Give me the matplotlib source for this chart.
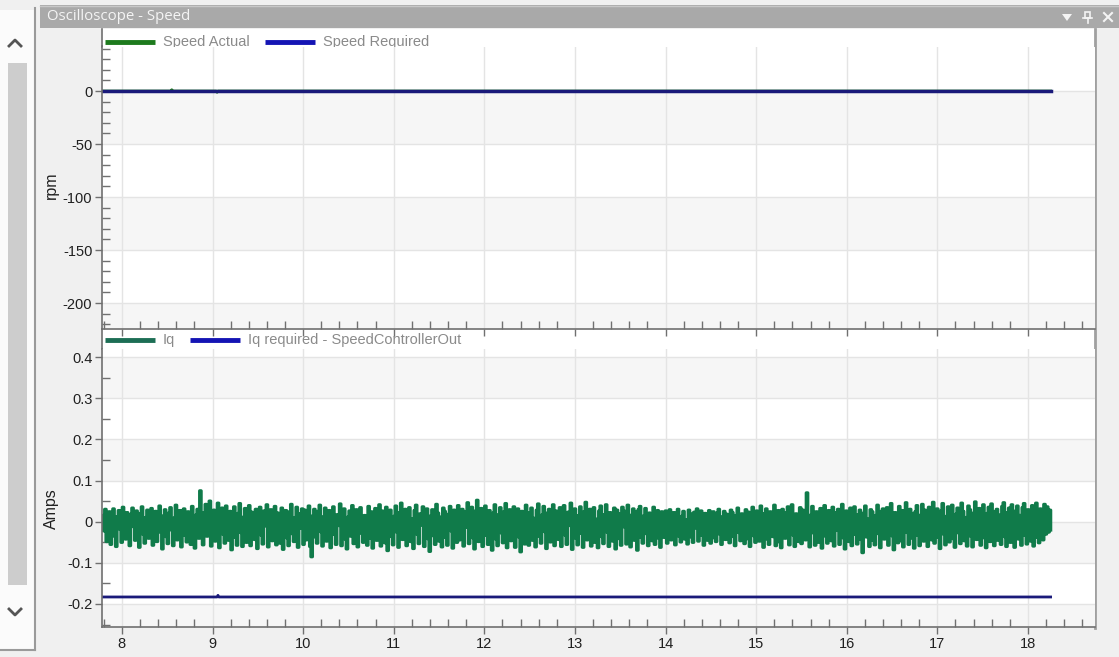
import numpy as np
import matplotlib
matplotlib.use("Agg")
import matplotlib.pyplot as plt
from matplotlib.patches import Rectangle, Polygon
from matplotlib.ticker import MultipleLocator

plt.rcParams['font.family'] = ['Liberation Sans', 'DejaVu Sans']
plt.rcParams['axes.unicode_minus'] = False

W, H = 1119, 657

# ---- data -------------------------------------------------------------
title_text = "Oscilloscope - Speed"

t_start, t_end = 7.78, 18.25

speed_t = [7.78, 8.54, 8.55, 8.56, 9.04, 9.05, 9.06, 18.25]
speed_actual = [0, 0, 1.2, 0, 0, -1.2, 0, 0]
speed_required = [0, 0, 0, 0, 0, 0, 0, 0]

iq_req_t = [7.78, 9.05, 9.06, 9.07, 18.25]
iq_required = [-0.183, -0.183, -0.179, -0.183, -0.183]

# Iq samples in milliamps, evenly spaced from t_start to t_end
iq_ma = [
    15, -22, 30, -48, -10, 24, -55, 8, 31, -35, -60, 12, 27, -18, -50, 35, 4, -42, 22, -28, -58, 18, 33, -12, -45,
    26, -5, -62, 20, 36, -30, -52, 10, 28, -40, -15, 32, -57, 6, 25, -48, -25, 38, -8, -66, 14, 29, -36, -53, 21,
    34, -20, -58, 9, 40, -44, -12, 27, -61, 18, 31, -33, -49, 24, 2, -55, 37, -27, -64, 16, 30, -40, 75, -18, -56,
    22, 42, -35, -8, 50, -59, 12, 28, -47, -22, 45, -63, 19, 33, -30, -52, 38, 6, -45, 25, -68, 14, 36, -38, -57,
    20, 44, -26, -60, 11, 32, -50, -14, 39, -58, 23, 5, -43, 30, -65, 17, 35, -32, -54, 26, -10, 41, -61, 13, 29,
    -46, -20, 37, -56, 21, 8, -52, 33, -67, 15, 27, -39, -58, 24, 42, -29, -48, 10, 35, -62, 19, -16, 31, -55, 28,
    -44, 22, 38, -60, -85, 14, 30, -37, -52, 25, 40, -24, -59, 12, 33, -47, 6, 27, -63, 20, 36, -31, -55, 17, -9,
    43, -58, 23, 31, -42, -66, 11, 26, -35, 39, -53, -18, 29, -61, 21, 34, -28, -50, 15, 4, -57, 37, -40, 24, -64,
    18, 32, -45, -12, 41, -59, 26, 9, -51, 35, -70, 20, 28, -36, -56, 13, 38, -25, -62, 22, 45, -43, -15, 30, -58,
    16, 34, -48, 7, -65, 27, 40, -30, -53, 19, -8, 36, -60, 24, 31, -41, -72, 14, 29, -34, -55, 42, 21, -47, 11,
    -61, 33, 25, -38, -57, 18, 37, -22, -64, 28, 10, -50, 39, -44, 15, 30, -59, 23, -13, 46, -53, 20, 35, -39, -66,
    26, 52, -48, -17, 32, -60, 14, 38, -33, -55, 27, 5, -69, 21, 41, -42, -58, 17, 34, -27, -51, 24, 44, -63, 12,
    29, -46, -20, 36, -62, 19, 31, -37, -73, 25, 11, -54, 40, -30, -57, 22, 33, -45, 8, -61, 28, 43, -35, -52, 16,
    37, -24, -65, 21, 30, -49, -14, 41, -58, 26, 12, -43, 34, -60, 18, 39, -32, -55, 23, -9, 45, -67, 27, 31, -40,
    -56, 15, 36, -28, -62, 24, 47, -44, -18, 30, -59, 20, 34, -50, 6, -63, 26, 38, -36, -53, 17, 41, -25, -60, 22,
    9, -47, 33, -66, 28, 19, -41, -57, 35, -12, 25, -54, 40, -33, -61, 16, 31, -45, 23, -69, 29, 37, -38, -52, 14,
    32, -29, -58, 21, 12, -46, 35, -55, 18, 27, -40, -62, 24, 15, -38, 26, -52, 10, 29, -44, -20, 22, -56, 17, 30,
    -35, -49, 13, 25, -42, 5, -54, 28, 19, -37, -50, 23, -15, 31, -47, 14, 26, -33, -57, 20, 8, -45, 27, -52, 16,
    24, -39, -48, 21, 30, -30, -55, 12, 25, -43, 18, -8, -51, 28, 22, -36, -58, 15, 33, -26, -46, 19, 10, -53, 29,
    -41, 23, -60, 17, 35, -34, -50, 26, 14, -47, 38, -28, -62, 20, 31, -42, -55, 24, 12, -36, 40, -58, 18, 27, -49,
    -63, 30, 22, -40, -15, 36, -56, 25, 41, -32, -60, 19, 13, -48, 34, -53, 28, 21, -44, 70, -38, -61, 16, 37, -27,
    -57, 24, 9, -50, 32, -64, 20, 39, -35, -52, 27, 14, -46, 35, -59, 22, -21, 30, -55, 18, 42, -39, -66, 26, 11,
    -48, 33, -58, 23, 36, -31, -54, 17, 28, -43, -75, 21, 38, -37, 6, -60, 29, 24, -45, -56, 15, 40, -29, -63, 25,
    31, -42, -12, 34, -57, 19, 44, -34, -68, 22, 12, -51, 37, -46, 27, -61, 18, 46, -26, -55, 30, 20, -40, -64, 24,
    39, -33, -58, 16, 42, -47, 28, -13, -60, 35, 21, -44, 47, -52, 19, 31, -38, -65, 26, 44, -30, -56, 13, 36, -49,
    23, 40, -41, -62, 18, 33, -27, -53, 45, 25, -46, 10, -59, 38, 29, -35, -61, 21, 48, -43, -18, 32, -57, 27, 41,
    -39, -63, 20, 35, -48, 43, -31, -58, 24, 30, -45, 16, -55, 37, 46, -36, -60, 22, 33, -50, 41, -28, -62, 26, 38,
    -42, 15, -57, 34, 44, -33, -54, 29, 20, -47, 39, -59, 25, 45, -38, -51, 31, 18, -44, 42, -30, 36, -25, 28, -20,
]

x_limits = (7.78, 18.74)
speed_limits = (-224.5, 42)
iq_limits = (-0.256, 0.42)

# ---- colours ----------------------------------------------------------
c_actual = '#1d7a1d'
c_iq = '#107b4a'
c_iq_leg = '#1d6e55'
c_req_line = '#1a1a7a'
c_req_leg = '#1414b4'
c_grid = '#e4e4e4'
c_band = '#f6f6f6'
c_text = '#202020'
c_leg_text = '#8a8a8a'
c_spine = '#707070'

fig = plt.figure(figsize=(W / 100, H / 100), dpi=100, facecolor='#f0f0f0')


def box(x0, y0, x1, y1):
    return [x0 / W, 1 - y1 / H, (x1 - x0) / W, (y1 - y0) / H]


# window chrome drawn in pixel space
bg = fig.add_axes([0, 0, 1, 1], zorder=0)
bg.set_xlim(0, W)
bg.set_ylim(H, 0)
bg.axis('off')
bg.add_patch(Rectangle((0, 10), 35, 640, facecolor='#fbfbfb', edgecolor='none'))
bg.add_patch(Rectangle((8, 63), 19, 522, facecolor='#cdcdcd', edgecolor='none'))
bg.plot([35, 35], [8, 650], color='#9a9a9a', lw=1.5)
bg.plot([0, 35], [650, 650], color='#9a9a9a', lw=1.5)
bg.plot([9, 15, 21], [46, 40, 46], color='#555555', lw=2)
bg.plot([9, 15, 21], [609, 615, 609], color='#555555', lw=2)
bg.add_patch(Rectangle((40, 5), W - 40, 23, facecolor='#a9a9a9', edgecolor='none'))
bg.plot([40, W], [5.5, 5.5], color='#c8c8c8', lw=1)
bg.text(47, 17, title_text, color='#f4f4f4', fontsize=10.8, va='center', ha='left',
        family=['Open Sans', 'DejaVu Sans'])
bg.add_patch(Polygon([[1062, 14], [1072, 14], [1067, 21]], closed=True,
                     facecolor='#f4f4f4', edgecolor='none'))
bg.add_patch(Rectangle((1085, 12), 5, 6, facecolor='none', edgecolor='#f4f4f4', lw=1.2))
bg.plot([1083, 1092], [18, 18], color='#f4f4f4', lw=1.2)
bg.plot([1087.5, 1087.5], [18, 23], color='#f4f4f4', lw=1.2)
bg.plot([1104, 1112], [13, 21], color='#f4f4f4', lw=1.5)
bg.plot([1104, 1112], [21, 13], color='#f4f4f4', lw=1.5)
# legend strips above each chart
bg.add_patch(Rectangle((102, 29), 993, 18, facecolor='white', edgecolor='none'))
bg.add_patch(Rectangle((102, 329), 993, 20, facecolor='white', edgecolor='none'))
bg.plot([102, 102], [29, 47], color=c_spine, lw=1.2)
bg.plot([102, 102], [329, 349], color=c_spine, lw=1.2)
bg.plot([1095, 1095], [29, 628], color='#a0a0a0', lw=2, zorder=5)
bg.text(51, 185, 'rpm', rotation=90, fontsize=11.5, color=c_text, ha='center', va='center')
bg.text(51, 509, 'Amps', rotation=90, fontsize=11.5, color=c_text, ha='center', va='center')


def legend_row(y, entries):
    for x0, colour, name in entries:
        bg.plot([x0, x0 + 50], [y, y], color=colour, lw=3.5, solid_capstyle='butt')
        bg.text(x0 + 58, y, name, color=c_leg_text, fontsize=10.5, va='center', ha='left')


legend_row(42, [(105, c_actual, 'Speed Actual'), (265, c_req_leg, 'Speed Required')])
legend_row(340, [(105, c_iq_leg, 'Iq'), (190, c_req_leg, 'Iq required - SpeedControllerOut')])


def style_axes(ax, limits, major, minor):
    ax.set_facecolor('white')
    ax.set_xlim(*x_limits)
    ax.set_ylim(*limits)
    ax.xaxis.set_major_locator(MultipleLocator(1))
    ax.xaxis.set_minor_locator(MultipleLocator(0.2))
    ax.yaxis.set_major_locator(MultipleLocator(major))
    ax.yaxis.set_minor_locator(MultipleLocator(minor))
    for s in ('top', 'right'):
        ax.spines[s].set_visible(False)
    for s in ('left', 'bottom'):
        ax.spines[s].set_color(c_spine)
        ax.spines[s].set_linewidth(1.2)
    ax.tick_params(which='major', direction='out', length=5, width=1, color=c_spine,
                   labelsize=10.5, labelcolor=c_text, pad=2)
    ax.tick_params(which='minor', direction='in', length=6, width=1, color=c_spine)
    ax.grid(True, which='major', color=c_grid, lw=1)
    ax.set_axisbelow(True)
    # alternating horizontal bands between major gridlines
    lo, hi = limits
    edges = np.arange(np.floor(lo / major) * major, hi + major, major)
    for i, (a, b) in enumerate(zip(edges[:-1], edges[1:])):
        if i % 2 == 0:
            ax.axhspan(a, b, color=c_band, zorder=0, lw=0)


# upper chart: speed
ax1 = fig.add_axes(box(102, 46.5, 1095, 329), zorder=2)
style_axes(ax1, speed_limits, 50, 10)
ax1.tick_params(axis='x', labelbottom=False)
ax1.plot(speed_t, speed_actual, color=c_actual, lw=2, label='Speed Actual')
ax1.plot(speed_t, speed_required, color=c_req_line, lw=2.5, label='Speed Required')

# lower chart: Iq
ax2 = fig.add_axes(box(102, 349, 1095, 627), zorder=2)
style_axes(ax2, iq_limits, 0.1, 0.05)
iq = np.array(iq_ma) / 1000.0
iq_t = np.linspace(t_start, t_end, len(iq))
ax2.plot(iq_t, iq, color=c_iq, lw=2.4, drawstyle='steps-post', label='Iq')
ax2.plot(iq_req_t, iq_required, color=c_req_line, lw=2, label='Iq required - SpeedControllerOut')
ax2.set_yticks([-0.2, -0.1, 0, 0.1, 0.2, 0.3, 0.4])
ax2.set_yticklabels(['-0.2', '-0.1', '0', '0.1', '0.2', '0.3', '0.4'])

fig.savefig('out.png', dpi=100, facecolor=fig.get_facecolor())
